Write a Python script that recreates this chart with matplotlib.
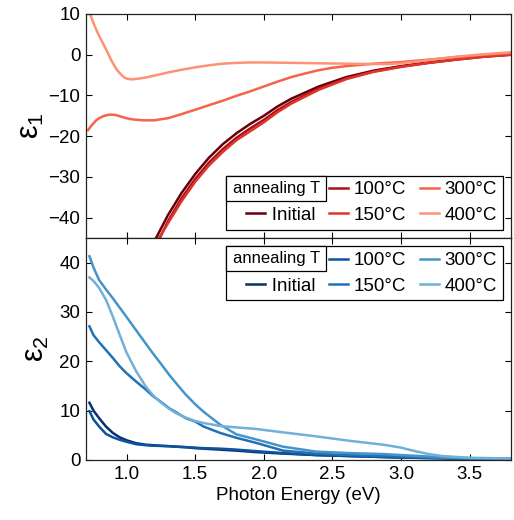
import numpy as np
import matplotlib
matplotlib.use("Agg")
import matplotlib.pyplot as plt
from matplotlib.lines import Line2D
from matplotlib.patches import Rectangle
from matplotlib.legend_handler import HandlerLine2D

plt.rcParams['font.family'] = ['Liberation Sans', 'DejaVu Sans']
plt.rcParams['mathtext.fontset'] = 'custom'
plt.rcParams['mathtext.rm'] = 'Liberation Sans'
plt.rcParams['mathtext.it'] = 'Liberation Sans'

##### Dati: epsilon_1 (parte reale) #####
labels = ['Initial', '100°C', '150°C', '300°C', '400°C']

e1_x_metal = [1.15, 1.2, 1.3, 1.4, 1.5, 1.6, 1.7, 1.8, 1.9, 2.0, 2.1, 2.2,
              2.4, 2.6, 2.8, 3.0, 3.2, 3.4, 3.6, 3.8]
e1_initial = [-52.0, -46.0, -39.5, -34.0, -29.3, -25.3, -22.0, -19.3, -17.0, -15.0, -12.7, -10.8,
              -7.8, -5.5, -3.9, -2.8, -1.9, -1.1, -0.4, 0.1]
e1_100 = [-54.0, -48.0, -41.0, -35.3, -30.5, -26.5, -23.2, -20.4, -18.1, -16.0, -13.6, -11.6,
          -8.3, -5.8, -4.1, -2.9, -2.0, -1.2, -0.5, 0.0]
e1_150 = [-53.0, -47.0, -41.5, -36.0, -31.2, -27.2, -23.9, -21.0, -18.8, -16.6, -14.1, -12.0,
          -8.6, -6.0, -4.2, -3.0, -2.0, -1.2, -0.5, 0.0]

e1_x_300 = [0.72, 0.74, 0.76, 0.78, 0.80, 0.83, 0.86, 0.89, 0.92, 0.96, 1.00, 1.05, 1.12, 1.20,
            1.30, 1.40, 1.5, 1.6, 1.7, 1.8, 1.9, 2.0, 2.1, 2.2, 2.3, 2.4, 2.5, 2.6, 2.8, 3.0,
            3.2, 3.4, 3.6, 3.8]
e1_300 = [-18.5, -17.6, -16.8, -16.1, -15.6, -15.1, -14.8, -14.7, -14.8, -15.2, -15.6, -15.9, -16.1, -16.1,
          -15.6, -14.6, -13.5, -12.4, -11.3, -10.1, -9.0, -7.8, -6.6, -5.5, -4.6, -3.8, -3.2, -2.8, -2.2, -1.8,
          -1.2, -0.6, 0.0, 0.4]

e1_x_400 = [0.72, 0.73, 0.75, 0.77, 0.79, 0.81, 0.83, 0.85, 0.87, 0.89, 0.91, 0.93, 0.95, 0.97,
            0.99, 1.01, 1.04, 1.08, 1.14, 1.22, 1.31, 1.4, 1.5, 1.6, 1.7, 1.8, 1.9, 2.0, 2.2,
            2.4, 2.6, 2.8, 2.9, 3.0, 3.2, 3.4, 3.6, 3.8]
e1_400 = [12.5, 10.5, 8.6, 6.9, 5.4, 4.0, 2.7, 1.4, 0.0, -1.4, -2.6, -3.7, -4.5, -5.2,
          -5.7, -5.95, -6.05, -5.9, -5.6, -5.0, -4.3, -3.7, -3.1, -2.6, -2.2, -2.0, -1.9, -1.9, -2.0,
          -2.1, -2.2, -2.3, -2.3, -2.1, -1.3, -0.5, 0.1, 0.6]

##### Dati: epsilon_2 (parte immaginaria) #####
e2_x = [0.73, 0.76, 0.80, 0.85, 0.90, 0.95, 1.00, 1.07, 1.14, 1.19, 1.24, 1.31, 1.36, 1.43, 1.5,
        1.56, 1.68, 1.80, 1.94, 2.14, 2.38, 2.62, 2.87, 3.0, 3.1, 3.2, 3.3, 3.5, 3.8]
e2_initial = [11.6, 10.0, 8.5, 6.8, 5.5, 4.6, 4.0, 3.4, 3.1, 3.0, 2.9, 2.8, 2.7, 2.6, 2.4,
              2.3, 2.1, 1.9, 1.6, 1.3, 1.0, 0.8, 0.6, 0.5, 0.45, 0.4, 0.35, 0.25, 0.2]
e2_100 = [9.9, 8.2, 6.8, 5.3, 4.6, 4.1, 3.7, 3.2, 3.0, 2.9, 2.85, 2.8, 2.7, 2.6, 2.5,
          2.4, 2.3, 2.1, 1.8, 1.4, 1.0, 0.8, 0.6, 0.5, 0.45, 0.4, 0.35, 0.25, 0.2]
e2_150 = [27.1, 25.3, 23.9, 22.3, 20.7, 19.0, 17.6, 15.9, 14.3, 13.0, 12.0, 10.5, 9.7, 8.5, 7.8,
          6.8, 5.5, 4.5, 3.5, 1.9, 1.3, 1.0, 0.8, 0.7, 0.6, 0.5, 0.4, 0.3, 0.2]
e2_300 = [41.3, 39.0, 36.5, 34.6, 32.8, 30.9, 29.0, 26.3, 23.6, 21.7, 19.9, 17.3, 15.6, 13.3, 11.3,
          9.8, 7.2, 5.2, 4.2, 2.7, 1.7, 1.4, 1.2, 1.0, 0.85, 0.7, 0.55, 0.35, 0.25]
e2_400 = [37.0, 36.3, 34.9, 32.5, 29.1, 25.4, 21.8, 18.0, 14.9, 13.2, 11.9, 10.4, 9.5, 8.6, 7.9,
          7.5, 6.9, 6.6, 6.3, 5.6, 4.8, 3.9, 3.1, 2.5, 1.8, 1.2, 0.8, 0.45, 0.3]

col_rossi = ['#67000d', '#ab1119', '#e0342a', '#f6634a', '#fc9276']
col_blu = ['#08306b', '#0c529d', '#2171b5', '#4594c8', '#70b0d9']

#==========================================================================

fig = plt.figure(figsize=(5.14, 5.20), dpi=100)
ax1 = fig.add_axes([0.1673, 0.5423, 0.8269, 0.4308])
ax2 = fig.add_axes([0.1673, 0.1154, 0.8269, 0.4269], sharex=ax1)

lw = 1.8
serie1 = [(e1_x_metal, e1_initial), (e1_x_metal, e1_100), (e1_x_metal, e1_150),
          (e1_x_300, e1_300), (e1_x_400, e1_400)]
linee1 = []
for (xs, ys), c, lab in zip(serie1, col_rossi, labels):
    l, = ax1.plot(xs, ys, color=c, lw=lw, label=lab)
    linee1.append(l)

serie2 = [e2_initial, e2_100, e2_150, e2_300, e2_400]
linee2 = []
for ys, c, lab in zip(serie2, col_blu, labels):
    l, = ax2.plot(e2_x, ys, color=c, lw=lw, label=lab)
    linee2.append(l)

ax1.set_xlim(0.705, 3.8)
ax1.set_ylim(-45, 10)
ax1.set_yticks([10, 0, -10, -20, -30, -40])
ax2.set_ylim(0, 45)
ax2.set_yticks([0, 10, 20, 30, 40])
ax2.set_xticks([1.0, 1.5, 2.0, 2.5, 3.0, 3.5])
ax2.set_xticklabels(['1.0', '1.5', '2.0', '2.5', '3.0', '3.5'])

for ax in (ax1, ax2):
    ax.tick_params(direction='in', top=True, right=True, length=4, width=0.8,
                   labelsize=13.5, pad=4)
    for s in ax.spines.values():
        s.set_linewidth(0.9)
        s.set_color('#222222')
ax1.tick_params(labelbottom=False)

ax1.set_ylabel(r'$ε_1$', fontsize=22, labelpad=2)
ax2.set_ylabel(r'$ε_2$', fontsize=22, labelpad=6)
ax2.set_xlabel('Photon Energy (eV)', fontsize=13.5, labelpad=3)

##### Legenda con riquadro "annealing T" #####
FS_LEG = 13.5
SPOSTA = 15  # px: sposta a destra la voce "Initial"

class HandlerSpostato(HandlerLine2D):
    # trattino della legenda traslato orizzontalmente di dx punti
    def __init__(self, dx, **kw):
        super().__init__(**kw)
        self.dx = dx

    def create_artists(self, legend, orig_handle, xdescent, ydescent, width, height,
                       fontsize, trans):
        return super().create_artists(legend, orig_handle, xdescent - self.dx, ydescent,
                                      width, height, fontsize, trans)

def legenda(ax, linee, loc):
    vuoto = Line2D([], [], color='none')
    hs = [vuoto] + linee
    ls = [' ', '   ' + labels[0]] + labels[1:]
    leg = ax.legend(hs, ls, loc=loc, ncol=3, fontsize=FS_LEG, frameon=True, fancybox=False,
                    edgecolor='black', framealpha=1, handlelength=1.0, handletextpad=0.3,
                    columnspacing=0.75, labelspacing=0.45, borderpad=0.3, borderaxespad=0.45,
                    handler_map={linee[0]: HandlerSpostato(SPOSTA * 72 / 100)})
    leg.get_frame().set_linewidth(0.9)
    return leg

leg1 = legenda(ax1, linee1, 'lower right')
leg2 = legenda(ax2, linee2, 'upper right')

fig.canvas.draw()
r = fig.canvas.get_renderer()
inv = fig.transFigure.inverted()
for leg in (leg1, leg2):
    lb = leg.get_window_extent(r)
    hb = leg.legend_handles[2].get_window_extent(r)
    x0, y1 = lb.x0, lb.y1
    x1 = hb.x0 - 3
    y0 = (lb.y0 + lb.y1) / 2 + 2
    (fx0, fy0) = inv.transform((x0, y0))
    (fx1, fy1) = inv.transform((x1, y1))
    fig.add_artist(Rectangle((fx0, fy0), fx1 - fx0, fy1 - fy0, transform=fig.transFigure,
                             facecolor='white', edgecolor='black', lw=0.9, zorder=10))
    fig.text((fx0 + fx1) / 2, (fy0 + fy1) / 2, 'annealing T', ha='center', va='center',
             fontsize=12, zorder=11)

fig.savefig('out.png', dpi=100)
